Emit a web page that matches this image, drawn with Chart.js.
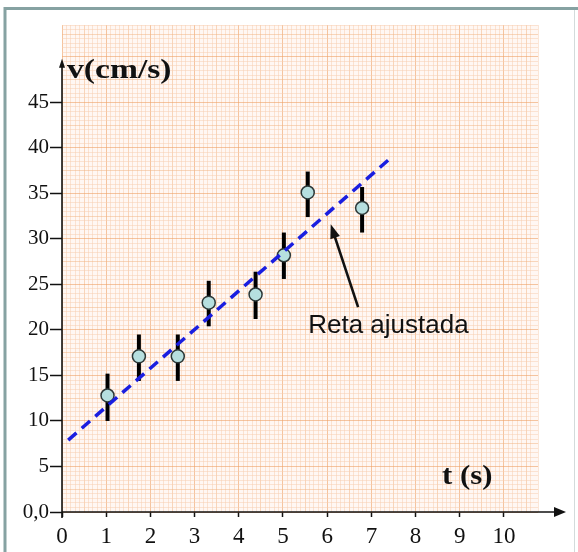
<!DOCTYPE html>
<html>
<head>
<meta charset="utf-8">
<script src="https://cdn.jsdelivr.net/npm/chart.js@4.4.0/dist/chart.umd.min.js"></script>
<style>
  html, body { margin: 0; padding: 0; background: #fff; }
  canvas { display: block; }
</style>
</head>
<body>
<canvas id="myChart" width="578" height="552"></canvas>
<script>
// measured points: t (s), v (cm/s) and the ends of each error bar
const times = [1.03, 1.74, 2.62, 3.32, 4.38, 5.02, 5.56, 6.79];
const speeds = [12.8, 17.1, 17.1, 23.0, 23.9, 28.2, 35.1, 33.4];
const errLow = [10.0, 14.4, 14.4, 20.4, 21.2, 25.6, 32.4, 30.7];
const errHigh = [15.2, 19.5, 19.5, 25.4, 26.4, 30.7, 37.4, 35.7];

// fitted line ("reta ajustada"), two ends
const fitT = [0.14, 7.44];
const fitV = [7.9, 38.9];

// tick labels
const xTicks = [0, 1, 2, 3, 4, 5, 6, 7, 8, 9, 10];
const xTickLabels = ['0', '1', '2', '3', '4', '5', '6', '7', '8', '9', '10'];
const yTicks = [0, 5, 10, 15, 20, 25, 30, 35, 40, 45];
const yTickLabels = ['0,0', '5', '10', '15', '20', '25', '30', '35', '40', '45'];

// note with arrow pointing at the line (data units)
const noteText = 'Reta ajustada';
const noteAt = [5.57, 19.7];
const arrowFrom = [6.70, 22.5];
const arrowTo = [6.08, 31.6];

const serif = '"Liberation Serif", "Times New Roman", serif';

// graph paper: strong line every 10 small squares, medium every 5
const paperColor = (i) => {
  if (i % 10 === 0) return 'rgba(238,162,104,0.6)';
  if (i % 5 === 0) return 'rgba(242,180,130,0.5)';
  return 'rgba(248,206,176,0.5)';
};

const findIndex = (list, v) => list.findIndex(e => Math.abs(e - v) < 1e-6);

const stretchText = (ctx, text, x, y, sx) => {
  ctx.save();
  ctx.translate(x, y);
  ctx.scale(sx, 1);
  ctx.fillText(text, 0, 0);
  ctx.restore();
};

const paperPlugin = {
  id: 'paper',
  beforeDraw(chart) {
    const { ctx, chartArea: a } = chart;
    ctx.save();
    ctx.fillStyle = '#ffffff';
    ctx.fillRect(0, 0, chart.width, chart.height);
    ctx.fillStyle = '#fff7f3';
    ctx.fillRect(a.left, a.top, a.right - a.left, a.bottom - a.top);
    // outer frame
    ctx.strokeStyle = '#86a2a2';
    ctx.lineWidth = 3;
    ctx.beginPath();
    ctx.moveTo(5, 560);
    ctx.lineTo(5, 8.5);
    ctx.lineTo(580, 8.5);
    ctx.stroke();
    ctx.strokeStyle = '#d3dbdb';
    ctx.lineWidth = 1;
    ctx.beginPath();
    ctx.moveTo(574.5, 10);
    ctx.lineTo(574.5, 552);
    ctx.stroke();
    ctx.restore();
  },
  afterDraw(chart) {
    const { ctx } = chart;
    const xs = chart.scales.x, ys = chart.scales.y;
    const x0 = xs.getPixelForValue(0), y0 = ys.getPixelForValue(0);
    ctx.save();
    ctx.strokeStyle = '#111';
    ctx.fillStyle = '#111';
    ctx.lineWidth = 1.6;

    // x axis with arrow
    const xEnd = xs.right + 28;
    ctx.beginPath();
    ctx.moveTo(x0, y0);
    ctx.lineTo(xEnd - 10, y0);
    ctx.stroke();
    ctx.beginPath();
    ctx.moveTo(xEnd, y0);
    ctx.lineTo(xEnd - 12, y0 - 5);
    ctx.lineTo(xEnd - 12, y0 + 5);
    ctx.closePath();
    ctx.fill();

    // y axis with arrow
    const yEnd = ys.getPixelForValue(49.8);
    ctx.beginPath();
    ctx.moveTo(x0, y0 + 6);
    ctx.lineTo(x0, yEnd + 6);
    ctx.stroke();
    ctx.beginPath();
    ctx.moveTo(x0, yEnd);
    ctx.lineTo(x0 - 3, yEnd + 9);
    ctx.lineTo(x0 + 3, yEnd + 9);
    ctx.closePath();
    ctx.fill();

    // axis titles
    ctx.font = 'bold 28px ' + serif;
    ctx.textBaseline = 'alphabetic';
    ctx.textAlign = 'left';
    stretchText(ctx, 'v(cm/s)', x0 + 5, ys.getPixelForValue(47.7), 1.2);
    stretchText(ctx, 't (s)', xs.getPixelForValue(8.6), y0 - 28, 1.1);

    // note and arrow
    const ax = xs.getPixelForValue(arrowFrom[0]), ay = ys.getPixelForValue(arrowFrom[1]);
    const bx = xs.getPixelForValue(arrowTo[0]), by = ys.getPixelForValue(arrowTo[1]);
    const ang = Math.atan2(by - ay, bx - ax);
    ctx.lineWidth = 2.6;
    ctx.beginPath();
    ctx.moveTo(ax, ay);
    ctx.lineTo(bx - 10 * Math.cos(ang), by - 10 * Math.sin(ang));
    ctx.stroke();
    ctx.beginPath();
    ctx.moveTo(bx, by);
    ctx.lineTo(bx - 14 * Math.cos(ang) + 5 * Math.sin(ang), by - 14 * Math.sin(ang) - 5 * Math.cos(ang));
    ctx.lineTo(bx - 14 * Math.cos(ang) - 5 * Math.sin(ang), by - 14 * Math.sin(ang) + 5 * Math.cos(ang));
    ctx.closePath();
    ctx.fill();

    ctx.font = '26px "Liberation Sans", Arial, sans-serif';
    ctx.fillText(noteText, xs.getPixelForValue(noteAt[0]), ys.getPixelForValue(noteAt[1]));
    ctx.restore();
  }
};

const errorBars = times.map((t, i) => ({
  data: [{ x: t, y: errLow[i] }, { x: t, y: errHigh[i] }],
  showLine: true,
  borderColor: '#000',
  borderWidth: 4,
  borderCapStyle: 'butt',
  pointRadius: 0,
  order: 3
}));

new Chart(document.getElementById('myChart'), {
  type: 'scatter',
  data: {
    datasets: [
      {
        data: fitT.map((t, i) => ({ x: t, y: fitV[i] })),
        showLine: true,
        borderColor: '#1a1ee0',
        borderWidth: 3.5,
        borderDash: [11, 7],
        borderCapStyle: 'butt',
        pointRadius: 0,
        order: 1
      },
      {
        data: times.map((t, i) => ({ x: t, y: speeds[i] })),
        pointRadius: 6.5,
        pointBackgroundColor: '#b6dfdf',
        pointBorderColor: '#2c3838',
        pointBorderWidth: 1.5,
        order: 2
      },
      ...errorBars
    ]
  },
  options: {
    responsive: false,
    animation: false,
    layout: { padding: { top: 25, right: 40, bottom: 0, left: 0 } },
    plugins: { legend: { display: false }, tooltip: { enabled: false } },
    scales: {
      x: {
        type: 'linear',
        min: 0,
        max: 10.77,
        afterFit: (s) => { s.height = 40; },
        border: { display: false },
        grid: {
          color: (c) => paperColor(Math.round(c.tick.value * 10)),
          lineWidth: 1,
          tickColor: (c) => findIndex(xTicks, c.tick.value) >= 0 ? '#111' : 'rgba(0,0,0,0)',
          tickLength: 5,
          tickWidth: 1.5
        },
        ticks: {
          stepSize: 0.1,
          autoSkip: false,
          maxRotation: 0,
          padding: 6,
          color: '#111',
          font: { family: serif, size: 23 },
          callback: (v) => {
            const k = findIndex(xTicks, v);
            return k >= 0 ? xTickLabels[k] : '';
          }
        }
      },
      y: {
        type: 'linear',
        min: 0,
        max: 53.5,
        afterFit: (s) => { s.width = 62; },
        border: { display: false },
        grid: {
          color: (c) => paperColor(Math.round(c.tick.value * 2)),
          lineWidth: 1,
          tickColor: (c) => findIndex(yTicks, c.tick.value) >= 0 ? '#111' : 'rgba(0,0,0,0)',
          tickLength: 12,
          tickWidth: 1.5
        },
        ticks: {
          stepSize: 0.5,
          autoSkip: false,
          padding: 1,
          color: '#111',
          font: { family: serif, size: 21 },
          callback: (v) => {
            const k = findIndex(yTicks, v);
            return k >= 0 ? yTickLabels[k] : '';
          }
        }
      }
    }
  },
  plugins: [paperPlugin]
});
</script>
</body>
</html>
